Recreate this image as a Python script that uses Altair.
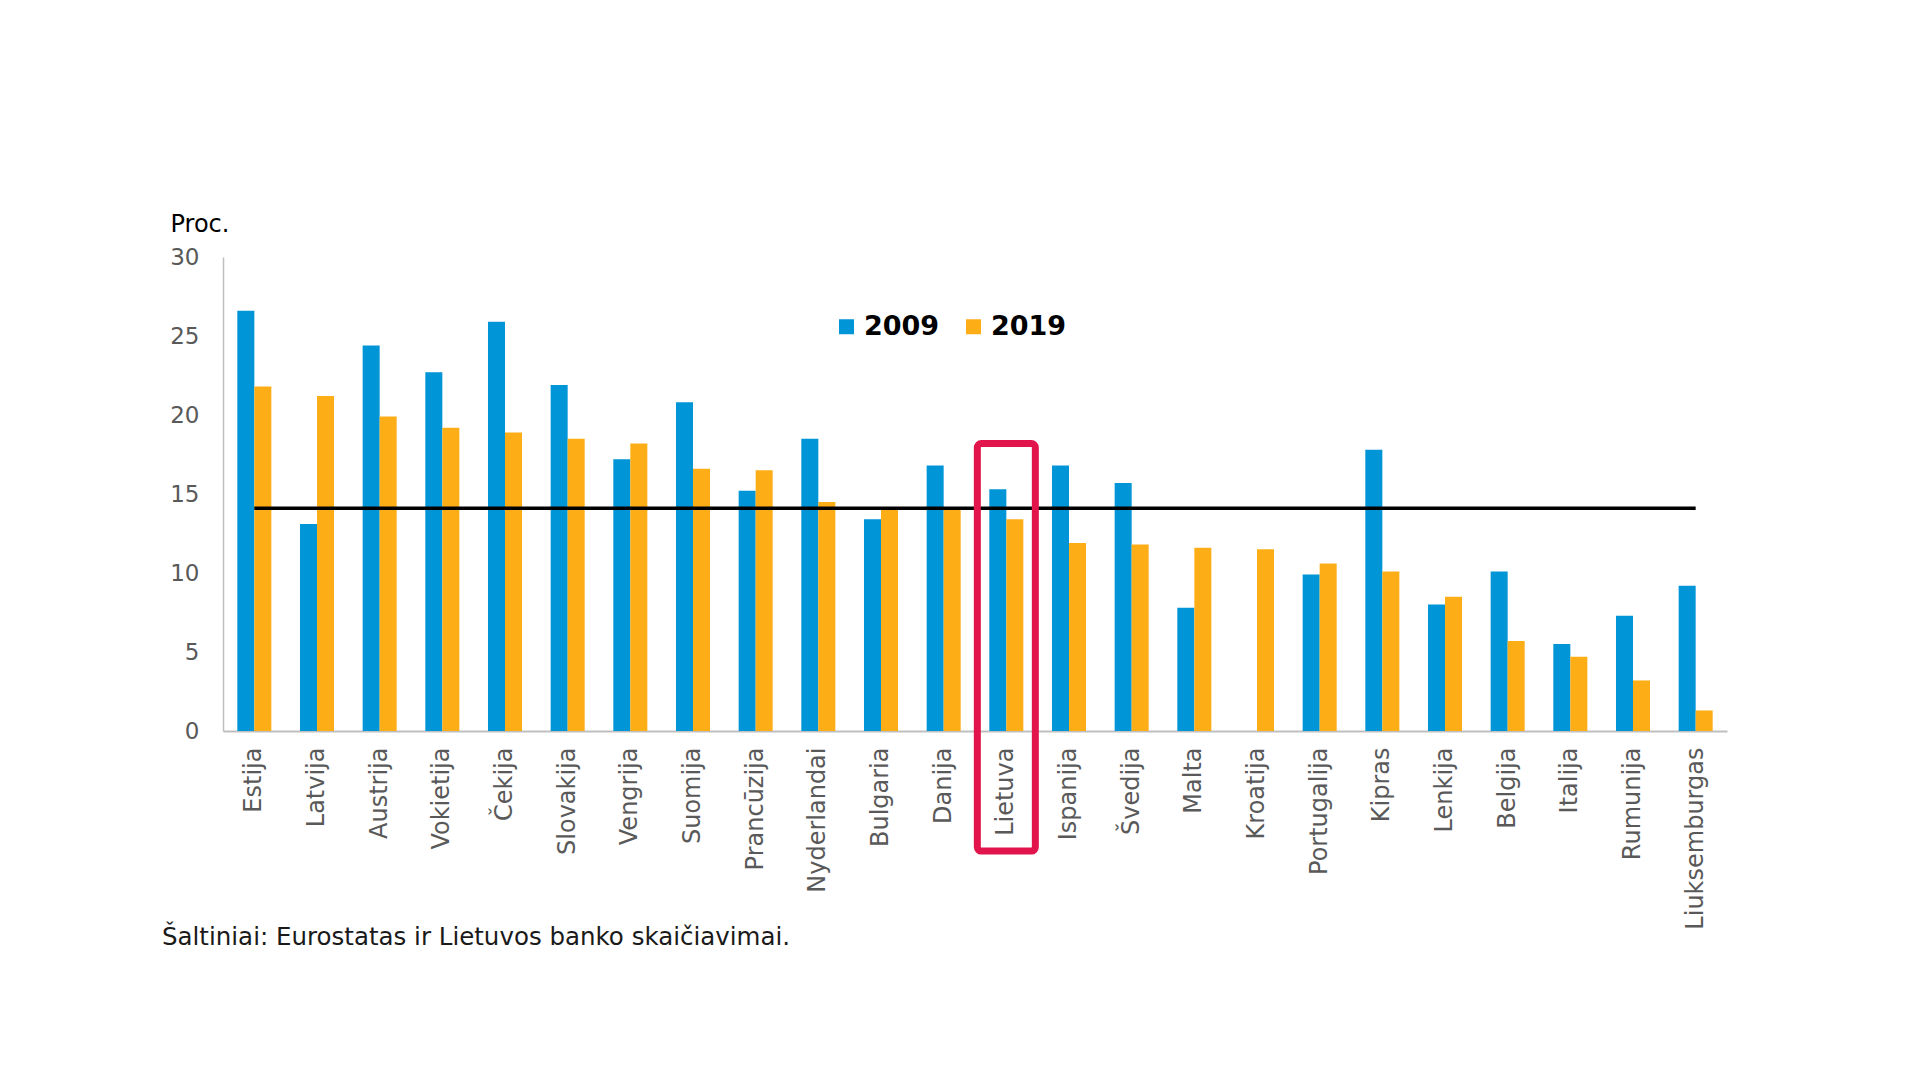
import altair as alt
import pandas as pd

countries = ["Estija", "Latvija", "Austrija", "Vokietija", "Čekija", "Slovakija",
             "Vengrija", "Suomija", "Prancūzija", "Nyderlandai", "Bulgaria", "Danija",
             "Lietuva", "Ispanija", "Švedija", "Malta", "Kroatija", "Portugalija",
             "Kipras", "Lenkija", "Belgija", "Italija", "Rumunija", "Liuksemburgas"]
values_2009 = [26.6, 13.1, 24.4, 22.7, 25.9, 21.9, 17.2, 20.8, 15.2, 18.5, 13.4, 16.8,
               15.3, 16.8, 15.7, 7.8, None, 9.9, 17.8, 8.0, 10.1, 5.5, 7.3, 9.2]
values_2019 = [21.8, 21.2, 19.9, 19.2, 18.9, 18.5, 18.2, 16.6, 16.5, 14.5, 14.1, 14.1,
               13.4, 11.9, 11.8, 11.6, 11.5, 10.6, 10.1, 8.5, 5.7, 4.7, 3.2, 1.3]
years = ["2009", "2019"]
average_value = 14.1
highlight_country = "Lietuva"
highlight_top = 18.2
highlight_bottom = -7.6
y_ticks = [0, 5, 10, 15, 20, 25, 30]
y_title = "Proc."
source_note = "Šaltiniai: Eurostatas ir Lietuvos banko skaičiavimai."

BLUE = "#0095D6"
ORANGE = "#FDAE17"
FONT = "DejaVu Sans"

rows = []
for c, a, b in zip(countries, values_2009, values_2019):
    rows.append({"country": c, "year": years[0], "value": a})
    rows.append({"country": c, "year": years[1], "value": b})
bars_df = pd.DataFrame(rows)
line_df = pd.DataFrame({"country": countries, "avg": [average_value] * len(countries)})
box_df = pd.DataFrame({"country": [highlight_country], "top": [highlight_top], "bottom": [highlight_bottom]})
note_df = pd.DataFrame({"note": [source_note]})

x_scale = alt.Scale(domain=countries, paddingInner=0.457, paddingOuter=0.2285)
y_scale = alt.Scale(domain=[0, 30], nice=False, zero=True)

x_axis = alt.Axis(title=None, labelAngle=270, labelAlign="right", labelBaseline="middle",
                  labelPadding=16, ticks=False, tickSize=0, domainColor="#BFBFBF",
                  domainWidth=2, labelFontSize=24, labelColor="#595959", labelFont=FONT,
                  labelOverlap=False, labelLimit=0)
y_axis = alt.Axis(title=y_title, values=y_ticks, grid=False, ticks=False, tickSize=0,
                  domainColor="#BFBFBF", domainWidth=1.5, labelFontSize=23,
                  labelColor="#595959", labelFont=FONT, labelPadding=24,
                  titleAngle=0, titleAlign="left", titleBaseline="alphabetic",
                  titleX=-53, titleY=-26, titleFontSize=24, titleFontWeight="normal",
                  titleColor="black", titleFont=FONT)

bars = alt.Chart(bars_df).mark_bar().encode(
    x=alt.X("country:N", sort=countries, scale=x_scale, axis=x_axis),
    xOffset=alt.XOffset("year:N", sort=years, scale=alt.Scale(paddingInner=0, paddingOuter=0)),
    y=alt.Y("value:Q", scale=y_scale, axis=y_axis),
    color=alt.Color("year:N", scale=alt.Scale(domain=years, range=[BLUE, ORANGE]),
                    legend=alt.Legend(orient="none", legendX=610, legendY=56,
                                      direction="horizontal", title=None,
                                      symbolType="square", symbolSize=225,
                                      labelFontSize=27, labelFontWeight="bold",
                                      labelColor="black", labelFont=FONT,
                                      labelOffset=4, columnPadding=20,
                                      symbolStrokeWidth=0, padding=0)),
)

avg_line = alt.Chart(line_df).mark_line(color="black", strokeWidth=3.5).encode(
    x=alt.X("country:N", sort=countries, scale=x_scale),
    y=alt.Y("avg:Q", scale=y_scale),
)

box = alt.Chart(box_df).mark_bar(fillOpacity=0, stroke="#E2144C", strokeWidth=7,
                                 cornerRadius=4, width=58, clip=False).encode(
    x=alt.X("country:N", sort=countries, scale=x_scale),
    y=alt.Y("top:Q", scale=y_scale),
    y2="bottom:Q",
)

note = alt.Chart(note_df).mark_text(align="left", baseline="alphabetic", fontSize=24.5,
                                    font=FONT, color="#1A1A1A").encode(
    x=alt.value(-61), y=alt.value(688), text="note:N"
)

chart = alt.layer(bars, avg_line, box, note).properties(
    width=1504, height=474,
    autosize=alt.AutoSizeParams(type="none"),
    padding={"left": 215, "top": 249, "right": 185, "bottom": 341},
).configure(background="white").configure_view(strokeWidth=0, stroke="transparent")

chart.save("out.html", embed_options={"renderer": "svg", "actions": False})
